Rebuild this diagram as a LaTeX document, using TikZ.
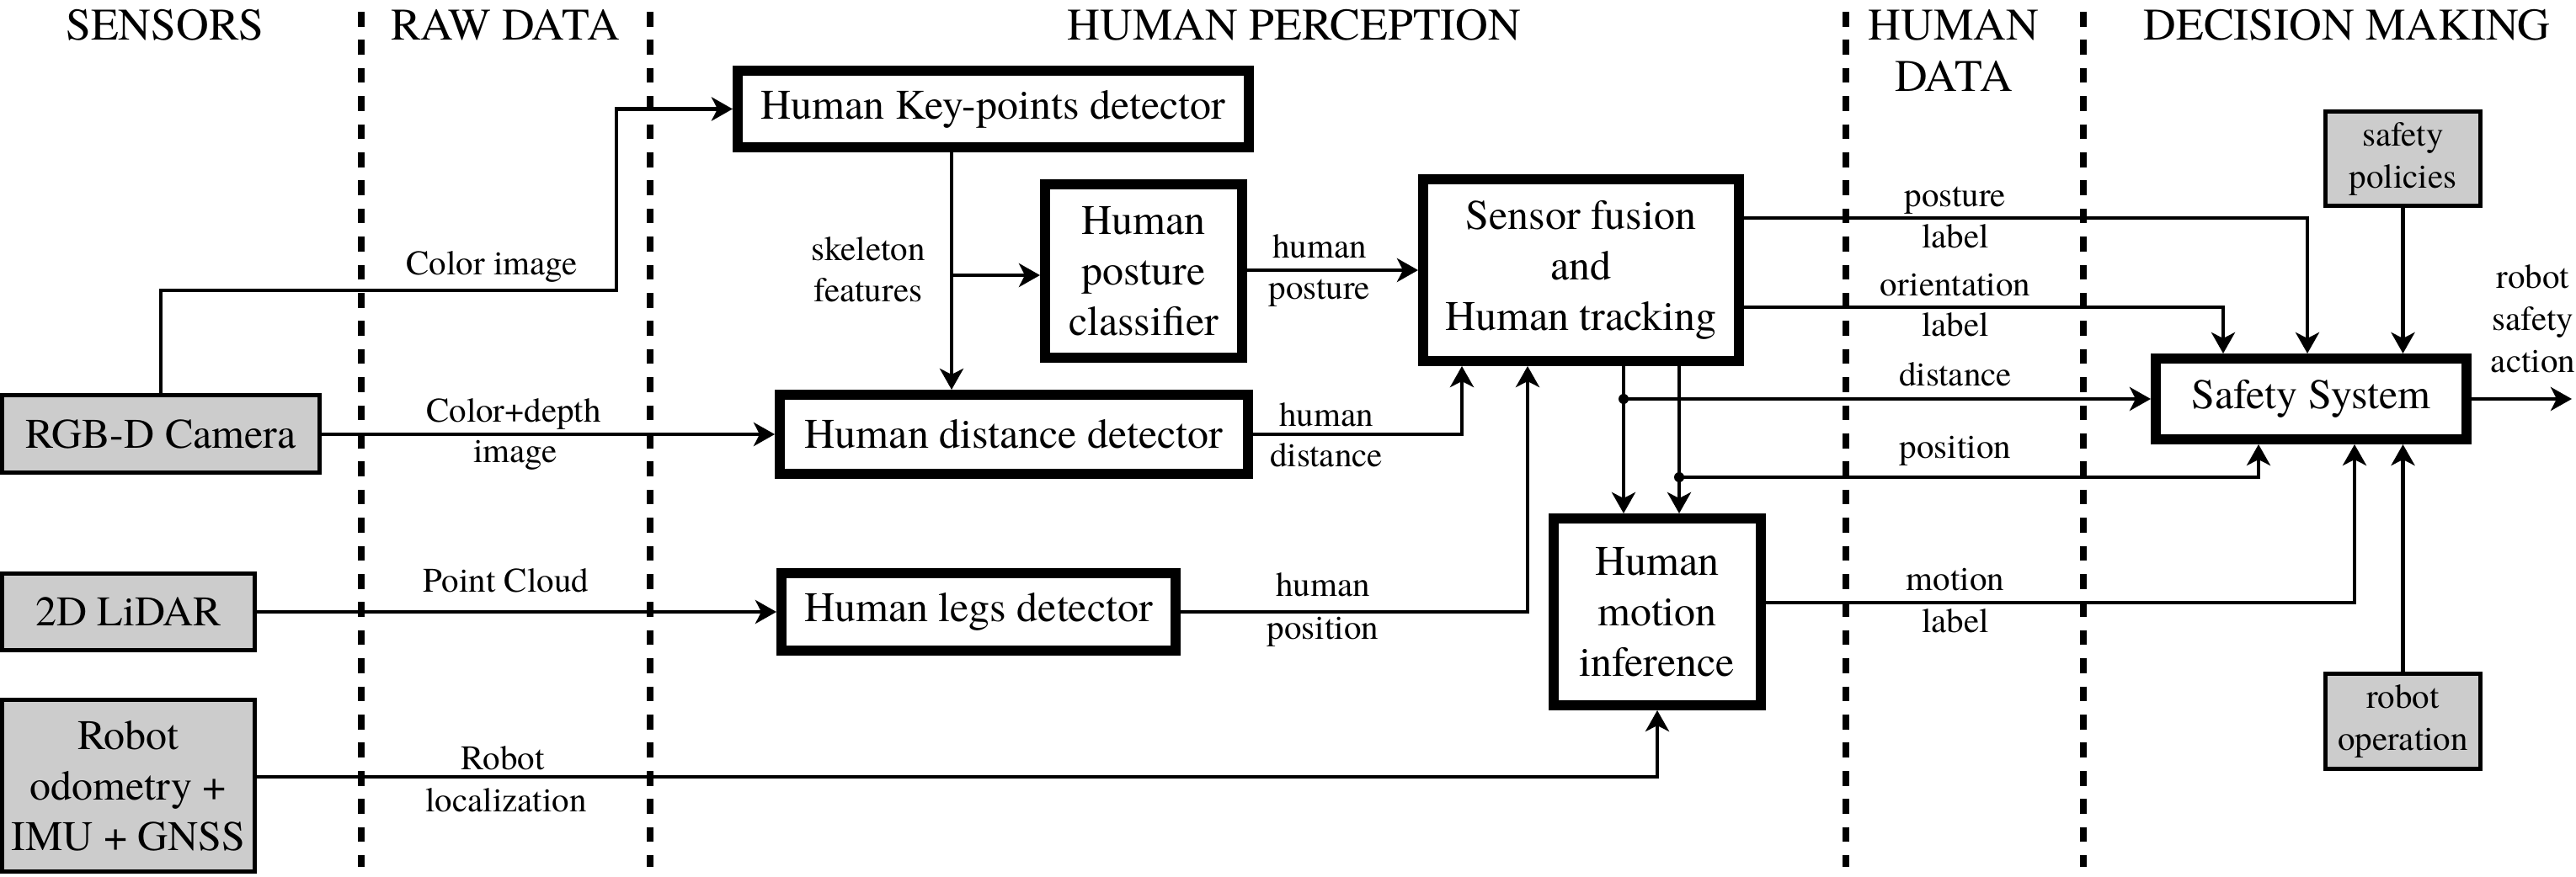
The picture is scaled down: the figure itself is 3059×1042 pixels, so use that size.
\documentclass[tikz,border=0pt]{standalone}
\usepackage{fontspec}
\setmainfont{TeX Gyre Termes}
\usetikzlibrary{arrows.meta}
\definecolor{boxgray}{HTML}{CCCCCC}
\begin{document}
\begin{tikzpicture}[x=0.5pt,y=-0.5pt,
  pbox/.style={draw=black, line width=6pt, fill=white, inner sep=0pt, align=center, font=\fontsize{25}{30}\selectfont},
  gbox/.style={draw=black, line width=2.5pt, fill=boxgray, inner sep=0pt, align=center, font=\fontsize{25}{30}\selectfont},
  sgbox/.style={gbox, font=\fontsize{20.5}{25}\selectfont},
  lbl/.style={inner sep=0pt, anchor=base, font=\fontsize{20.5}{25}\selectfont},
  hdr/.style={inner sep=0pt, anchor=base, font=\fontsize{26.8}{32}\selectfont},
  conn/.style={line width=2.25pt},
  arr/.style={conn, -{Stealth[length=12.5pt,width=14pt,inset=3.5pt]}},
  sepline/.style={line width=4pt, dash pattern=on 8.85pt off 7.85pt},
]
\useasboundingbox (0,0) rectangle (3059,1042);

% headers
\node[hdr] (hs) at (196,48) {SENSORS};
\node[hdr] (hr) at (600,48) {RAW DATA};
\node[hdr] (hp) at (1537,48) {HUMAN PERCEPTION};
\node[hdr] (hh1) at (2320,48) {HUMAN};
\node[hdr] (hh2) at (2320,109) {DATA};
\node[hdr] (hd) at (2787,48) {DECISION MAKING};

% separators
\draw[sepline] (429,14) -- (429,1030);
\draw[sepline] (772,14) -- (772,1030);
\draw[sepline] (2192,14) -- (2192,1030);
\draw[sepline] (2474,14) -- (2474,1030);

% sensor boxes
\node[gbox, minimum width=188.5pt, minimum height=46pt] (cam) at (191,516) {RGB-D Camera};
\node[gbox, minimum width=150pt, minimum height=45.5pt] (lidar) at (152.5,727) {2D LiDAR};
\node[gbox, minimum width=150pt, minimum height=102pt] (odo) at (152.5,933.5) {Robot\\odometry +\\IMU + GNSS};
\node[sgbox, minimum width=92pt, minimum height=56pt] (pol) at (2853.5,188.5) {safety\\policies};
\node[sgbox, minimum width=92pt, minimum height=56.5pt] (op) at (2853.5,857) {robot\\operation};

% processing boxes
\node[pbox, minimum width=303.5pt, minimum height=45.5pt] (kp) at (1179.5,129.5) {Human Key-points detector};
\node[pbox, minimum width=117pt, minimum height=103pt] (post) at (1358,322) {Human\\posture\\classifier};
\node[pbox, minimum width=278pt, minimum height=47pt] (dist) at (1204,516) {Human distance detector};
\node[pbox, minimum width=234pt, minimum height=46pt] (legs) at (1162,727) {Human legs detector};
\node[pbox, minimum width=187.5pt, minimum height=108pt] (fus) at (1877.5,321) {Sensor fusion\\and\\Human tracking};
\node[pbox, minimum width=123pt, minimum height=111pt] (mot) at (1968,727) {Human\\motion\\inference};
\node[pbox, minimum width=184.5pt, minimum height=48pt] (safe) at (2744.5,474) {Safety System};

% connectors
\draw[arr] (cam.north) |- (732,345) |- (kp.west);
\draw[arr] (cam.east) -- (dist.west);
\draw[arr] (lidar.east) -- (legs.west);
\draw[arr] (odo.east |- 0,923) -| (mot.south);
\draw[arr] (kp.south -| 1130,0) -- (dist.north -| 1130,0);
\coordinate (br) at (1130,327);
\draw[arr] (br) -- (br -| post.west);
\draw[arr] (post.east |- 0,321) -- (fus.west |- 0,321);
\draw[arr] (dist.east) -| (fus.south -| 1736,0);
\draw[arr] (legs.east) -| (fus.south -| 1814,0);
\draw[arr] (fus.south -| 1928,0) -- (mot.north -| 1928,0);
\draw[arr] (fus.south -| 1994,0) -- (mot.north -| 1994,0);
\coordinate (j1) at (1928,474);
\coordinate (j2) at (1994,567);
\fill (j1) circle[radius=3pt];
\fill (j2) circle[radius=3pt];
\draw[arr] (j1) -- (j1 -| safe.west);
\draw[arr] (j2) -| (safe.south -| 2682,0);
\draw[arr] (mot.east |- 0,716) -| (safe.south -| 2796,0);
\draw[arr] (op.north) -- (op.north |- safe.south);
\draw[arr] (pol.south) -- (pol.south |- safe.north);
\draw[arr] (fus.east |- 0,259) -| (safe.north -| 2740,0);
\draw[arr] (fus.east |- 0,365) -| (safe.north -| 2640,0);
\coordinate (out) at (3054,474);
\draw[arr] (safe.east) -- (out);

% labels
\node[lbl] (l1) at (584,327) {Color image};
\node[lbl] (l2) at (610,502) {Color+depth};
\node[lbl] (l3) at (612,550) {image};
\node[lbl] (l4) at (601,704) {Point Cloud};
\node[lbl] (l5) at (597,914) {Robot};
\node[lbl] (l6) at (601,964) {localization};
\node[lbl] (l7) at (1031,310) {skeleton};
\node[lbl] (l8) at (1031,359) {features};
\node[lbl] (l9) at (1567,307) {human};
\node[lbl] (l10) at (1567,356) {posture};
\node[lbl] (l11) at (1575,507) {human};
\node[lbl] (l12) at (1575,555) {distance};
\node[lbl] (l13) at (1571,709) {human};
\node[lbl] (l14) at (1571,760) {position};
\node[lbl] (l15) at (2322,246) {posture};
\node[lbl] (l16) at (2322,295) {label};
\node[lbl] (l17) at (2322,352) {orientation};
\node[lbl] (l18) at (2322,400) {label};
\node[lbl] (l19) at (2322,459) {distance};
\node[lbl] (l20) at (2322,545) {position};
\node[lbl] (l21) at (2322,702) {motion};
\node[lbl] (l22) at (2322,752) {label};
\node[lbl] (l23) at (3008,343) {robot};
\node[lbl] (l24) at (3008,393) {safety};
\node[lbl] (l25) at (3008,443) {action};
\end{tikzpicture}
\end{document}
